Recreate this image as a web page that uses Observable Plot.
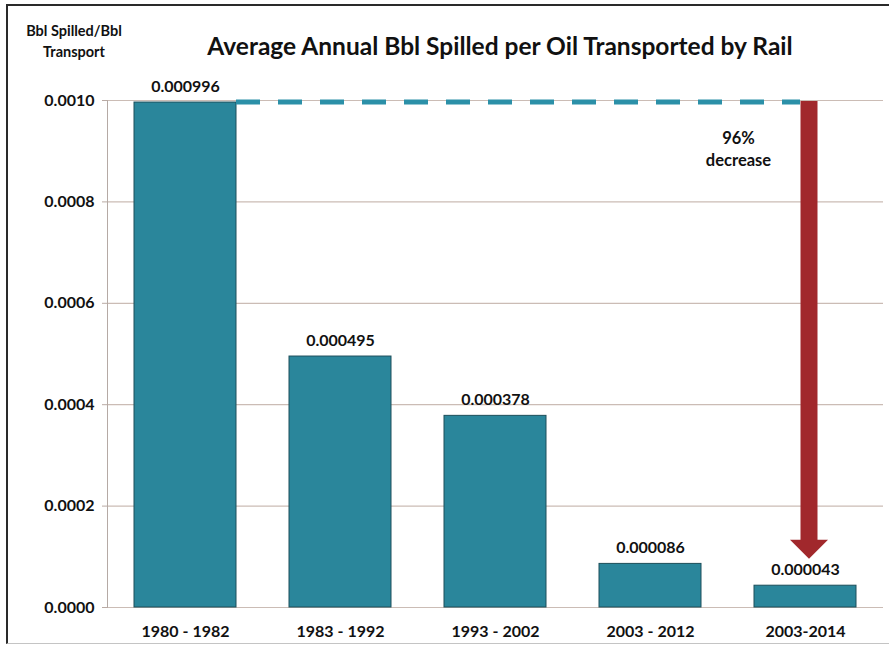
<!DOCTYPE html>
<html>
<head>
<meta charset="utf-8">
<script src="https://cdn.jsdelivr.net/npm/d3@7"></script>
<script src="https://cdn.jsdelivr.net/npm/@observablehq/plot@0.6"></script>
<style>
  html, body { margin: 0; padding: 0; background: #fff; }
  #wrap { position: relative; width: 889px; height: 651px; overflow: hidden; font-family: Lato, "Open Sans", sans-serif; }
  #frame { position: absolute; left: 6px; top: 4px; width: 900px; height: 640px; border-top: 2px solid #2a2a2a; border-left: 2px solid #2a2a2a; border-bottom: 1px solid #c4c4c4; box-sizing: border-box; }
  #title { position: absolute; left: 107px; width: 786px; top: 31px; text-align: center; font-weight: 700; font-size: 24.5px; color: #111; }
  #ylab { position: absolute; left: 13px; width: 122px; top: 20px; text-align: center; font-weight: 700; font-size: 14.5px; line-height: 21px; color: #111; }
  #chart { position: absolute; left: 0; top: 0; }
</style>
</head>
<body>
<div id="wrap">
  <div id="frame"></div>
  <div id="chart"></div>
  <div id="title">Average Annual Bbl Spilled per Oil Transported by Rail</div>
  <div id="ylab">Bbl Spilled/Bbl<br>Transport</div>
</div>
<script>
const categories = ["1980 - 1982", "1983 - 1992", "1993 - 2002", "2003 - 2012", "2003-2014"];
const values = [0.000996, 0.000495, 0.000378, 0.000086, 0.000043];
const valueLabels = ["0.000996", "0.000495", "0.000378", "0.000086", "0.000043"];
const yTicks = [0, 0.0002, 0.0004, 0.0006, 0.0008, 0.0010];
const arrowTipValue = 0.000095;
const decreaseLabel = "96%\ndecrease";
const decreaseLabelValue = 0.000906;

const data = categories.map((c, i) => ({category: c, value: values[i], label: valueLabels[i]}));

const teal = "#2a869b";
const red = "#a1282c";

function arrowAndDash(index, scales) {
  const x = scales.x, y = scales.y;
  const bw = x.bandwidth ? x.bandwidth() : 102;
  const g = d3.create("svg:g");
  const xStart = x(categories[0]) + bw;
  const xc = x(categories[categories.length - 1]) + bw / 2 + 4;
  const yTop = y(values[0]);
  const yTip = y(arrowTipValue);
  g.append("line")
    .attr("x1", xStart).attr("x2", xc - 9)
    .attr("y1", yTop).attr("y2", yTop)
    .attr("stroke", "#2b90a8").attr("stroke-width", 5)
    .attr("stroke-dasharray", "24 18");
  const sw = 8.5, hw = 19, hh = 19;
  const pts = [
    [xc - sw, yTop - 1], [xc + sw, yTop - 1], [xc + sw, yTip - hh], [xc + hw, yTip - hh],
    [xc, yTip], [xc - hw, yTip - hh], [xc - sw, yTip - hh]
  ];
  g.append("polygon").attr("points", pts.map(p => p.join(",")).join(" ")).attr("fill", red);
  return g.node();
}

const chart = Plot.plot({
  width: 889,
  height: 651,
  marginTop: 100,
  marginBottom: 44,
  marginLeft: 107,
  marginRight: 6,
  style: {fontFamily: "Lato, 'Open Sans', sans-serif", background: "transparent", color: "#111"},
  x: {type: "band", domain: categories, paddingInner: 0.344, paddingOuter: 0.172, label: null},
  y: {domain: [0, 0.001], label: null},
  marks: [
    Plot.gridY(yTicks, {stroke: "#cbbcb5", strokeOpacity: 1, strokeWidth: 1.2}),
    Plot.axisY({ticks: yTicks, tickFormat: d3.format(".4f"), tickSize: 5, tickPadding: 8, fontSize: 16, fontWeight: "bold", stroke: "#b9aaa4", label: null}),
    Plot.frame({anchor: "left", stroke: "#b5aaa5"}),
    Plot.barY(data, {x: "category", y: "value", fill: teal, stroke: "#1c4e5a", strokeWidth: 1}),
    Plot.axisX({tickSize: 0, tickPadding: 18, fontSize: 16, fontWeight: "bold", label: null}),
    Plot.text(data, {x: "category", y: "value", text: "label", dy: -16, lineAnchor: "middle", fontSize: 16, fontWeight: "bold", fill: "#111"}),
    arrowAndDash,
    Plot.text([decreaseLabel], {x: () => categories[categories.length - 1], y: () => decreaseLabelValue, text: d => d, dx: -67, lineAnchor: "middle", lineHeight: 1.35, fontSize: 16.5, fontWeight: "bold", fill: "#111"})
  ]
});
document.getElementById("chart").appendChild(chart);
</script>
</body>
</html>
